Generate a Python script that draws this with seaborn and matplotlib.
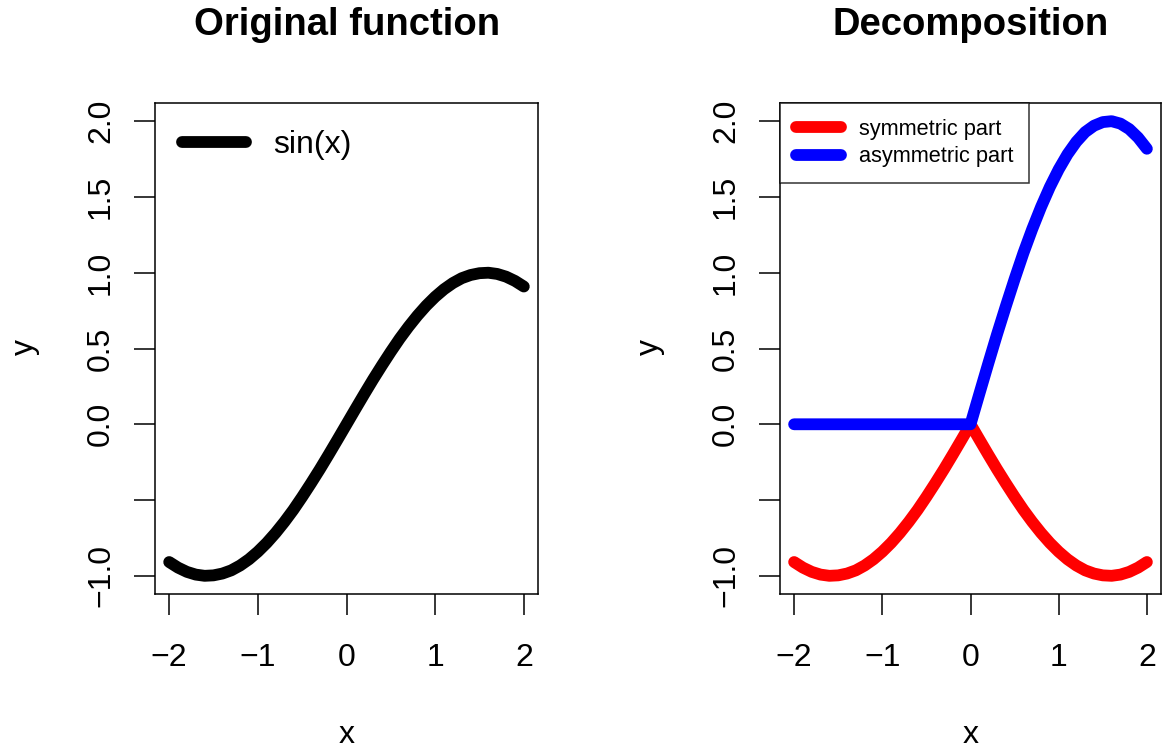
import numpy as np
import pandas as pd
import matplotlib
matplotlib.use("Agg")
import matplotlib.pyplot as plt
import seaborn as sns

# values (x from -2 to 2 in steps of 0.1)
x_vals = [-2.0, -1.9, -1.8, -1.7, -1.6, -1.5, -1.4, -1.3, -1.2, -1.1, -1.0,
          -0.9, -0.8, -0.7, -0.6, -0.5, -0.4, -0.3, -0.2, -0.1, 0.0,
          0.1, 0.2, 0.3, 0.4, 0.5, 0.6, 0.7, 0.8, 0.9, 1.0,
          1.1, 1.2, 1.3, 1.4, 1.5, 1.6, 1.7, 1.8, 1.9, 2.0]
sin_y = [-0.909, -0.946, -0.974, -0.992, -1.000, -0.997, -0.985, -0.964, -0.932, -0.891, -0.841,
         -0.783, -0.717, -0.644, -0.565, -0.479, -0.389, -0.296, -0.199, -0.100, 0.000,
         0.100, 0.199, 0.296, 0.389, 0.479, 0.565, 0.644, 0.717, 0.783, 0.841,
         0.891, 0.932, 0.964, 0.985, 0.997, 1.000, 0.992, 0.974, 0.946, 0.909]
sym_y = [-0.909, -0.946, -0.974, -0.992, -1.000, -0.997, -0.985, -0.964, -0.932, -0.891, -0.841,
         -0.783, -0.717, -0.644, -0.565, -0.479, -0.389, -0.296, -0.199, -0.100, 0.000,
         -0.100, -0.199, -0.296, -0.389, -0.479, -0.565, -0.644, -0.717, -0.783, -0.841,
         -0.891, -0.932, -0.964, -0.985, -0.997, -1.000, -0.992, -0.974, -0.946, -0.909]
asym_y = [0.0, 0.0, 0.0, 0.0, 0.0, 0.0, 0.0, 0.0, 0.0, 0.0, 0.0,
          0.0, 0.0, 0.0, 0.0, 0.0, 0.0, 0.0, 0.0, 0.0, 0.0,
          0.200, 0.398, 0.592, 0.778, 0.958, 1.130, 1.288, 1.434, 1.566, 1.682,
          1.782, 1.864, 1.928, 1.970, 1.994, 2.000, 1.984, 1.948, 1.892, 1.818]

x_ticks = [-2, -1, 0, 1, 2]
x_ticklabels = ["\u22122", "\u22121", "0", "1", "2"]
y_ticks = [-1.0, -0.5, 0.0, 0.5, 1.0, 1.5, 2.0]
y_ticklabels = ["\u22121.0", "", "0.0", "0.5", "1.0", "1.5", "2.0"]

sns.set_style("white")
plt.rcParams['font.family'] = ['Liberation Sans', 'DejaVu Sans']
plt.rcParams['text.color'] = 'black'

W, H = 1162, 748
fig = plt.figure(figsize=(W / 100, H / 100), dpi=100)

def px_axes(x0, x1, y0, y1):
    return fig.add_axes([x0 / W, 1 - y1 / H, (x1 - x0) / W, (y1 - y0) / H])

ax1 = px_axes(155, 538, 103, 594)
ax2 = px_axes(780, 1161, 103, 594)

LW = 8.5
df = pd.DataFrame({"x": x_vals, "sin": sin_y, "sym": sym_y, "asym": asym_y})

sns.lineplot(data=df, x="x", y="sin", ax=ax1, color="black", lw=LW,
             sort=False, estimator=None, label="sin(x)", solid_capstyle="round")
sns.lineplot(data=df, x="x", y="sym", ax=ax2, color="#ff0000", lw=LW,
             sort=False, estimator=None, label="symmetric part", solid_capstyle="round")
sns.lineplot(data=df, x="x", y="asym", ax=ax2, color="#0000ff", lw=LW,
             sort=False, estimator=None, label="asymmetric part", solid_capstyle="round")

for ax in (ax1, ax2):
    ax.set_xlim(-2.16, 2.16)
    ax.set_ylim(-1.12, 2.12)
    ax.set_xticks(x_ticks)
    ax.set_xticklabels(x_ticklabels)
    ax.set_yticks(y_ticks)
    ax.set_yticklabels(y_ticklabels, rotation=90, va="center")
    ax.tick_params(axis="both", direction="out", length=15, width=1.1,
                   labelsize=23, color="black", labelcolor="black",
                   left=True, bottom=True)
    ax.tick_params(axis="x", pad=20)
    ax.tick_params(axis="y", pad=13)
    for s in ax.spines.values():
        s.set_visible(True)
        s.set_color("black")
        s.set_linewidth(1.1)
    ax.set_xlabel("")
    ax.set_ylabel("")

leg1 = ax1.legend(loc="upper left", bbox_to_anchor=(0.0, 1.0), frameon=False,
                  fontsize=23, handlelength=2.0, handletextpad=0.85,
                  borderaxespad=0.45)
for h in leg1.get_lines():
    h.set_linewidth(LW)
    h.set_solid_capstyle("round")

leg2 = ax2.legend(loc="upper left", bbox_to_anchor=(0.0, 1.0), frameon=True,
                  fontsize=15.7, handlelength=2.1, handletextpad=0.8,
                  borderaxespad=0.0, fancybox=False, borderpad=0.72,
                  labelspacing=0.3)
leg2.get_frame().set_edgecolor("black")
leg2.get_frame().set_linewidth(1.1)
for h in leg2.get_lines():
    h.set_linewidth(LW)
    h.set_solid_capstyle("round")

def ftext(x, y, s, **kw):
    fig.text(x / W, 1 - y / H, s, ha="center", va="center", color="black", **kw)

ftext(347, 25, "Original function", fontsize=27.5, fontweight="bold")
ftext(971, 25, "Decomposition", fontsize=27.5, fontweight="bold")
ftext(347, 735, "x", fontsize=23)
ftext(971, 735, "x", fontsize=23)
ftext(25, 347, "y", fontsize=23, rotation=90)
ftext(650, 347, "y", fontsize=23, rotation=90)

fig.savefig("out.png", dpi=100)
